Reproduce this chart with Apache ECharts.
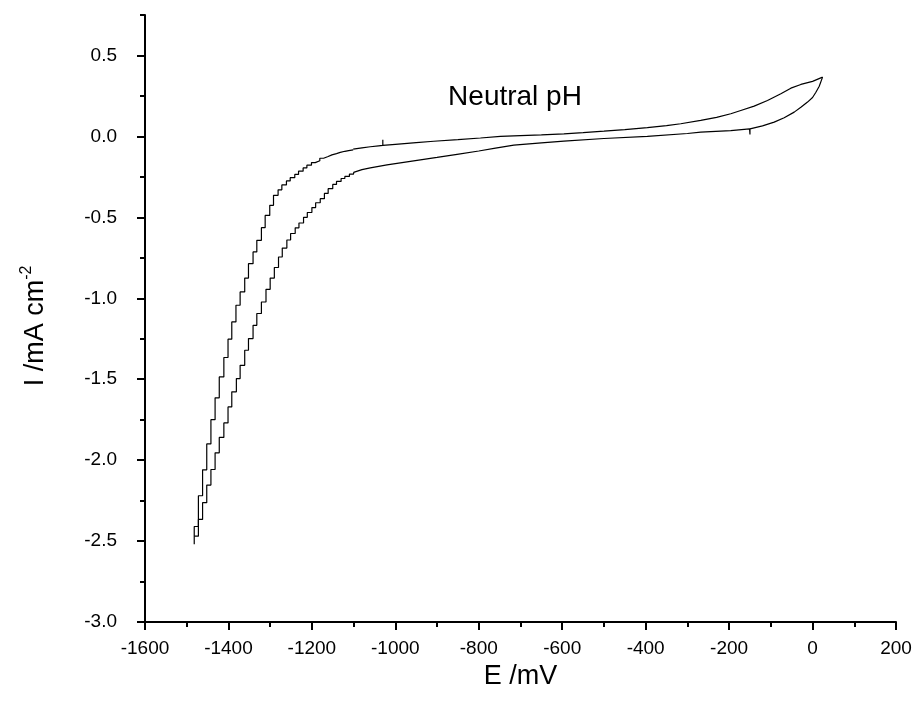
<!DOCTYPE html>
<html>
<head>
<meta charset="utf-8">
<script src="https://cdn.jsdelivr.net/npm/echarts@6/dist/echarts.min.js"></script>
<style>html,body{margin:0;padding:0;background:#fff;}#c{width:919px;height:708px;}</style>
</head>
<body>
<div id="c"></div>
<script>
// ---- data (E in mV, I in mA cm^-2) ----
const outerSteepE = [-1482,-1482,-1472,-1462,-1452,-1442,-1432,-1422,-1411,-1401,-1392,-1382,-1372,-1361,-1352,-1341,-1332,-1321,-1312,-1301,-1292,-1281,-1272,-1261,-1252,-1241,-1232,-1221,-1212,-1201,-1192,-1181,-1172,-1161,-1152,-1141,-1132,-1121,-1112,-1101];
const outerSteepI = [-2.52,-2.41,-2.22,-2.06,-1.90,-1.75,-1.615,-1.486,-1.366,-1.253,-1.146,-1.043,-0.961,-0.875,-0.786,-0.714,-0.642,-0.564,-0.488,-0.426,-0.364,-0.33,-0.30,-0.275,-0.255,-0.235,-0.215,-0.195,-0.178,-0.162,-0.150,-0.135,-0.124,-0.114,-0.106,-0.099,-0.092,-0.088,-0.083,-0.079];
const outerFlatE = [-1101,-1080,-1060,-1040,-1030,-1030,-1030,-1000,-950,-908,-850,-796,-748,-700,-650,-596,-550,-500,-450,-396,-350,-316,-268,-230,-196,-172,-140,-108,-76,-52,-28,0,24];
const outerFlatI = [-0.079,-0.071,-0.064,-0.058,-0.055,-0.020,-0.055,-0.049,-0.039,-0.030,-0.020,-0.010,0.000,0.005,0.010,0.016,0.023,0.032,0.042,0.054,0.066,0.078,0.099,0.118,0.140,0.160,0.187,0.222,0.263,0.298,0.321,0.340,0.366];
const innerSteepE = [-1482,-1472,-1462,-1452,-1442,-1432,-1422,-1411,-1401,-1392,-1381,-1372,-1361,-1352,-1341,-1332,-1321,-1310,-1300,-1290,-1280,-1271,-1260,-1251,-1240,-1231,-1220,-1211,-1200,-1191,-1180,-1170,-1161,-1150,-1141,-1130,-1121,-1110,-1100];
const innerSteepI = [-2.47,-2.366,-2.263,-2.154,-2.058,-1.955,-1.860,-1.770,-1.671,-1.578,-1.496,-1.414,-1.321,-1.249,-1.167,-1.094,-1.023,-0.945,-0.875,-0.81,-0.745,-0.69,-0.64,-0.60,-0.565,-0.535,-0.50,-0.47,-0.44,-0.41,-0.385,-0.352,-0.323,-0.297,-0.278,-0.260,-0.247,-0.233,-0.222];
const innerFlatE = [-1100,-1080,-1060,-1040,-1020,-1000,-948,-900,-852,-800,-760,-716,-650,-596,-500,-396,-300,-268,-196,-151,-150,-150,-120,-92,-68,-44,-28,-12,0,8,16,24];
const innerFlatI = [-0.222,-0.205,-0.194,-0.185,-0.176,-0.168,-0.148,-0.130,-0.111,-0.090,-0.072,-0.054,-0.040,-0.029,-0.013,0.000,0.018,0.027,0.036,0.047,0.012,0.047,0.065,0.088,0.115,0.150,0.180,0.212,0.240,0.273,0.310,0.366];
const xTicks = {min: -1600, max: 200, step: 200};
const yTicks = {min: -3.0, max: 0.75, step: 0.5, minorStep: 0.25};
const annotation = 'Neutral pH';
const xName = 'E /mV';

const zip = (a, b) => a.map((v, i) => [v, b[i]]);
const FONT = '"Liberation Sans", Arial, sans-serif';
const lineStyle = {color: '#000', width: 1.2};
const mk = (name, E, I, step) => ({
  name, type: 'line', xAxisIndex: 0, yAxisIndex: 0,
  data: zip(E, I), step: step, showSymbol: false, symbol: 'none',
  lineStyle, itemStyle: {color: '#000'}, animation: false, silent: true
});

const chart = echarts.init(document.getElementById('c'), null, {renderer: 'canvas'});
const gridPos = {left: 145, right: 23, bottom: 86};
const axisLineStyle = {color: '#000', width: 2};
chart.setOption({
  backgroundColor: '#fff',
  animation: false,
  grid: [
    Object.assign({top: 15}, gridPos),
    Object.assign({top: 15 + (yTicks.max - 0.5) * (622 - 15) / (yTicks.max - yTicks.min)}, gridPos)
  ],
  xAxis: [
    {
      type: 'value', gridIndex: 0, min: xTicks.min, max: xTicks.max, interval: xTicks.step,
      name: xName, nameLocation: 'middle', nameGap: 33,
      nameTextStyle: {fontFamily: FONT, fontSize: 27, color: '#000'},
      axisLine: {show: true, onZero: false, lineStyle: axisLineStyle},
      axisTick: {show: true, inside: false, length: 8, lineStyle: {color: '#000', width: 2}},
      minorTick: {show: true, splitNumber: 2, length: 5, lineStyle: {color: '#000', width: 2}},
      axisLabel: {fontFamily: FONT, fontSize: 19, color: '#000', margin: 17, formatter: v => String(v)},
      splitLine: {show: false}
    },
    {type: 'value', gridIndex: 1, min: xTicks.min, max: xTicks.max, show: false, axisLine: {onZero: false}}
  ],
  yAxis: [
    {
      type: 'value', gridIndex: 0, min: yTicks.min, max: yTicks.max, interval: yTicks.minorStep,
      axisLine: {show: true, onZero: false, lineStyle: axisLineStyle},
      axisTick: {show: true, inside: false, length: 5, lineStyle: {color: '#000', width: 2}},
      axisLabel: {show: false},
      splitLine: {show: false}
    },
    {
      type: 'value', gridIndex: 1, min: yTicks.min, max: 0.5, interval: yTicks.step,
      axisLine: {show: false, onZero: false},
      axisTick: {show: true, inside: false, length: 8, lineStyle: {color: '#000', width: 2}},
      axisLabel: {fontFamily: FONT, fontSize: 19, color: '#000', margin: 28,
        formatter: v => (Math.abs(v) < 1e-9 ? 0 : v).toFixed(1)},
      splitLine: {show: false}
    }
  ],
  series: [
    mk('outerSteep', outerSteepE, outerSteepI, 'end'),
    mk('outerFlat', outerFlatE, outerFlatI, false),
    mk('innerSteep', innerSteepE, innerSteepI, 'end'),
    mk('innerFlat', innerFlatE, innerFlatI, false)
  ],
  graphic: [
    {type: 'text', x: 515, y: 97, style: {text: annotation, fontFamily: FONT, fontSize: 28, fill: '#000', textAlign: 'center', textVerticalAlign: 'middle'}},
    {type: 'text', x: 36, y: 326, rotation: Math.PI / 2,
      style: {text: 'I /mA cm{sup|-2}', fontFamily: FONT, fontSize: 27, fill: '#000', textAlign: 'center', textVerticalAlign: 'middle',
        rich: {sup: {fontFamily: FONT, fontSize: 16, verticalAlign: 'top', padding: [0, 0, 18, 0], fill: '#000'}}}}
  ]
});
</script>
</body>
</html>
